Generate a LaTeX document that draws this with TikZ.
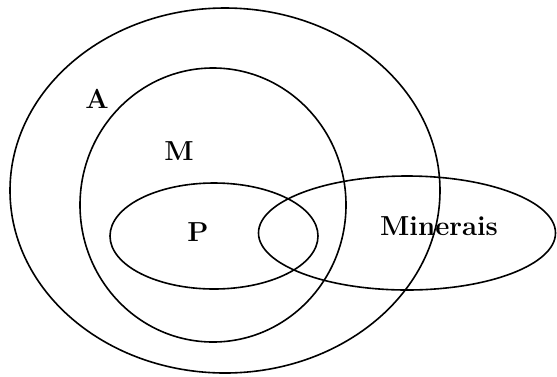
\documentclass[tikz,border=0pt]{standalone}
\begin{document}
\begin{tikzpicture}[x=1pt,y=-1pt,
  setline/.style={draw=black,line width=1.6pt},
  setlabel/.style={font=\fontsize{27.5}{32}\selectfont\bfseries,inner sep=0pt}]
\useasboundingbox (0,0) rectangle (557,376);
\draw[setline] (225,190.5) ellipse [x radius=215,y radius=182.5];
\draw[setline] (213,205) ellipse [x radius=133,y radius=137];
\draw[setline] (214,236) ellipse [x radius=104,y radius=53];
\draw[setline] (407,233) ellipse [x radius=148.5,y radius=57];
\node[setlabel] (a) at (97,99) {A};
\node[setlabel] (m) at (179,151) {M};
\node[setlabel] (p) at (198,232) {P};
\node[setlabel] (min) at (439,226) {Minerais};
\end{tikzpicture}
\end{document}
